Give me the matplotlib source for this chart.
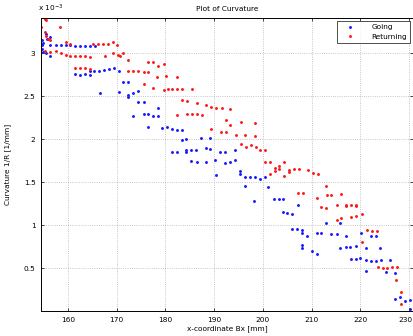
import matplotlib
matplotlib.use("Agg")
import matplotlib.pyplot as plt
from matplotlib.transforms import ScaledTranslation

going_x = [154.6, 154.6, 154.7, 154.8, 154.9, 155.5, 155.6, 156.4, 155.5, 156.3,
           156.4, 157.5, 158.5, 159.5, 160.4, 161.4, 162.4, 163.5, 164.5, 165.5,
           161.4, 162.4, 163.5, 164.5,
           164.5, 165.4, 166.4, 167.4, 168.5, 169.4, 170.5,
           171.3, 172.3,
           166.5, 170.5, 172.4, 172.4, 173.4, 174.4,
           174.4, 175.5, 178.4,
           173.4, 175.5, 176.5, 177.5, 178.5,
           176.5, 179.3, 180.4, 181.3, 182.3, 183.3,
           183.3, 184.3, 187.2, 189.2,
           181.3, 182.3, 184.3, 184.3, 185.3, 186.2, 188.3, 189.2, 191.1, 192.2, 194.2,
           185.3, 186.4, 188.3, 190.1, 192.2, 193.2, 194.2,
           190.3, 195.2, 195.2, 196.3, 197.3, 198.3, 199.3, 200.4,
           196.3, 198.1, 201.1,
           202.2, 203.2, 204.1, 207.2,
           204.1, 205.0, 206.0,
           206.0, 207.0, 208.1, 208.1, 209.0,
           208.1, 208.1, 210.1, 211.1,
           211.1, 212.0, 213.0, 214.0, 215.1, 215.8, 217.0,
           215.9, 217.0, 217.9, 219.0,
           218.1, 219.0, 220.0,
           220.2, 221.2, 221.2, 222.2, 223.3,
           222.2, 223.3, 224.1, 224.3,
           221.2, 225.2, 226.1, 227.1,
           227.1, 228.1, 229.1, 230.1, 230.2]
going_y = [3.15, 3.10, 3.05, 3.02, 3.12, 3.23, 3.17, 3.19, 3.00, 2.975,
           3.10, 3.10, 3.10, 3.10, 3.10, 3.08, 3.08, 3.08, 3.08, 3.08,
           2.76, 2.75, 2.76, 2.75,
           2.80, 2.80, 2.80, 2.81, 2.82, 2.83, 2.79,
           2.67, 2.67,
           2.54, 2.55, 2.52, 2.49, 2.54, 2.56,
           2.43, 2.43, 2.37,
           2.27, 2.29, 2.30, 2.27, 2.27,
           2.14, 2.13, 2.14, 2.12, 2.11, 2.11,
           1.99, 2.00, 2.02, 2.02,
           1.855, 1.855, 1.87, 1.85, 1.87, 1.87, 1.90, 1.89, 1.855, 1.855, 1.87,
           1.745, 1.73, 1.74, 1.76, 1.72, 1.73, 1.76,
           1.58, 1.635, 1.60, 1.56, 1.56, 1.56, 1.54, 1.56,
           1.46, 1.28, 1.45,
           1.30, 1.30, 1.30, 1.24,
           1.15, 1.14, 1.13,
           0.96, 0.96, 0.95, 0.91, 0.87,
           0.77, 0.74, 0.70, 0.66,
           0.91, 0.91, 1.03, 0.895, 0.895, 1.02, 0.87,
           0.74, 0.75, 0.75, 0.76,
           0.61, 0.61, 0.615,
           0.91, 0.73, 0.59, 0.585, 0.585,
           0.88, 0.88, 0.73, 0.60,
           0.47, 0.45, 0.59, 0.44,
           0.145, 0.16, 0.12, 0.13, 0.02]

returning_x = [155.3, 155.5, 154.5, 158.4,
               155.3, 155.5, 155.8, 156.3,
               155.3, 156.4, 157.5, 158.6, 159.6,
               159.6, 160.5,
               160.4, 161.4, 162.4, 163.5, 164.5, 167.6, 169.3, 170.2, 170.7,
               161.4, 162.4, 163.5, 164.5,
               165.2, 166.2, 167.2, 168.3, 169.3, 170.1,
               171.2, 172.4,
               172.3, 173.4, 174.4, 175.5, 176.5,
               176.4, 177.5, 178.5, 179.6,
               178.3, 180.2, 182.3,
               175.5, 177.5, 179.6, 180.6, 181.3, 182.4, 183.4, 185.4,
               183.4, 184.4, 186.4, 188.4, 189.4, 190.4, 191.5, 193.3,
               182.3, 184.5, 185.5, 186.5, 187.5,
               189.4, 191.3, 192.4, 193.3, 192.4, 195.4, 198.4,
               194.4, 196.4, 198.4,
               195.4, 196.5, 197.5, 198.5, 199.5, 200.5,
               200.5, 201.4,
               202.4, 203.4, 204.4,
               201.4, 202.4, 203.4,
               204.4, 205.4, 206.4, 207.3, 205.4,
               209.3, 210.3, 211.2,
               207.2, 208.2, 211.0, 213.0,
               212.0, 213.0, 213.1, 214.0, 215.2, 216.1,
               215.1, 216.1,
               217.1, 217.1, 218.1, 219.2, 219.2,
               218.1, 219.2, 220.3,
               221.3, 222.4, 223.4, 220.3,
               223.6, 224.6, 225.5, 226.5, 227.5,
               227.4, 228.4, 228.4]
returning_y = [3.40, 3.39, 3.31, 3.31,
               3.25, 3.20, 3.17, 3.15,
               3.03, 3.015, 3.03, 3.01, 2.98,
               3.13, 3.11,
               2.97, 2.97, 2.97, 2.97, 2.96, 2.97, 3.00, 2.98, 2.97,
               2.83, 2.83, 2.83, 2.82,
               3.11, 3.11, 3.11, 3.11, 3.13, 3.10,
               3.00, 2.92,
               2.79, 2.79, 2.79, 2.78, 2.78,
               2.90, 2.90, 2.85, 2.88,
               2.73, 2.735, 2.73,
               2.645, 2.60, 2.57, 2.59, 2.59, 2.59, 2.59, 2.59,
               2.46, 2.45, 2.42, 2.40, 2.38, 2.37, 2.37, 2.35,
               2.28, 2.29, 2.29, 2.29, 2.28,
               2.12, 2.08, 2.09, 2.17, 2.22, 2.20, 2.19,
               2.05, 2.05, 2.04,
               1.94, 1.915, 1.935, 1.91, 1.87, 1.875,
               1.73, 1.73,
               1.67, 1.69, 1.74,
               1.60, 1.63, 1.66,
               1.57, 1.62, 1.65, 1.65, 1.64,
               1.645, 1.61, 1.60,
               1.38, 1.37, 1.32, 1.46,
               1.21, 1.195, 1.35, 1.35, 1.235, 1.36,
               1.06, 1.08,
               1.23, 1.22, 1.23, 1.23, 1.22,
               1.09, 1.11, 1.13,
               0.95, 0.935, 0.935, 0.81,
               0.515, 0.505, 0.50, 0.51, 0.515,
               0.36, 0.225, 0.08]

x_ticks = [160, 170, 180, 190, 200, 210, 220, 230]
y_ticks = [0.5, 1, 1.5, 2, 2.5, 3]
y_tick_labels = ["0.5", "1", "1.5", "2", "2.5", "3"]

plt.rcParams['font.family'] = ['DejaVu Sans']
fs = 5.3

fig = plt.figure(figsize=(4.14, 3.36), dpi=100)
ax = fig.add_axes([0.099, 0.074, 0.8986, 0.872])

ax.plot(going_x, going_y, linestyle='none', marker='.', markersize=2.2,
        color='#1a1aff', label='Going')
ax.plot(returning_x, returning_y, linestyle='none', marker='.', markersize=2.2,
        color='#ff1a1a', label='Returning')

ax.set_xlim(154.45, 230.8)
ax.set_ylim(0.0, 3.41)
ax.set_xticks(x_ticks)
ax.set_xticklabels([str(t) for t in x_ticks], fontsize=fs)
ax.set_yticks(y_ticks)
ax.set_yticklabels(y_tick_labels, fontsize=fs)
ax.tick_params(direction='in', top=True, right=True, length=2.5, width=0.5, pad=4)
ax.grid(True, linestyle=':', color='#b4b4b4', linewidth=0.6)
for s in ax.spines.values():
    s.set_linewidth(0.7)

# keep the last x tick label inside the figure
last = ax.get_xticklabels()[-1]
last.set_transform(last.get_transform() + ScaledTranslation(-4 / 100, 0, fig.dpi_scale_trans))

ax.set_title('Plot of Curvature', fontsize=fs, pad=5)
ax.set_xlabel('x-coordinate Bx [mm]', fontsize=fs, labelpad=2)
ax.set_ylabel('Curvature 1/R [1/mm]', fontsize=fs, labelpad=9)
fig.text(0.092, 0.958, r'x 10$^{-3}$', fontsize=fs, ha='left', va='bottom')

leg = ax.legend(loc='upper right', fontsize=fs, frameon=True, fancybox=False,
                edgecolor='black', borderaxespad=0.35, handlelength=2.6,
                handletextpad=1.6, borderpad=0.45, labelspacing=0.45,
                markerscale=1.0)
leg.get_frame().set_linewidth(0.6)

fig.savefig('out.png', dpi=100)
